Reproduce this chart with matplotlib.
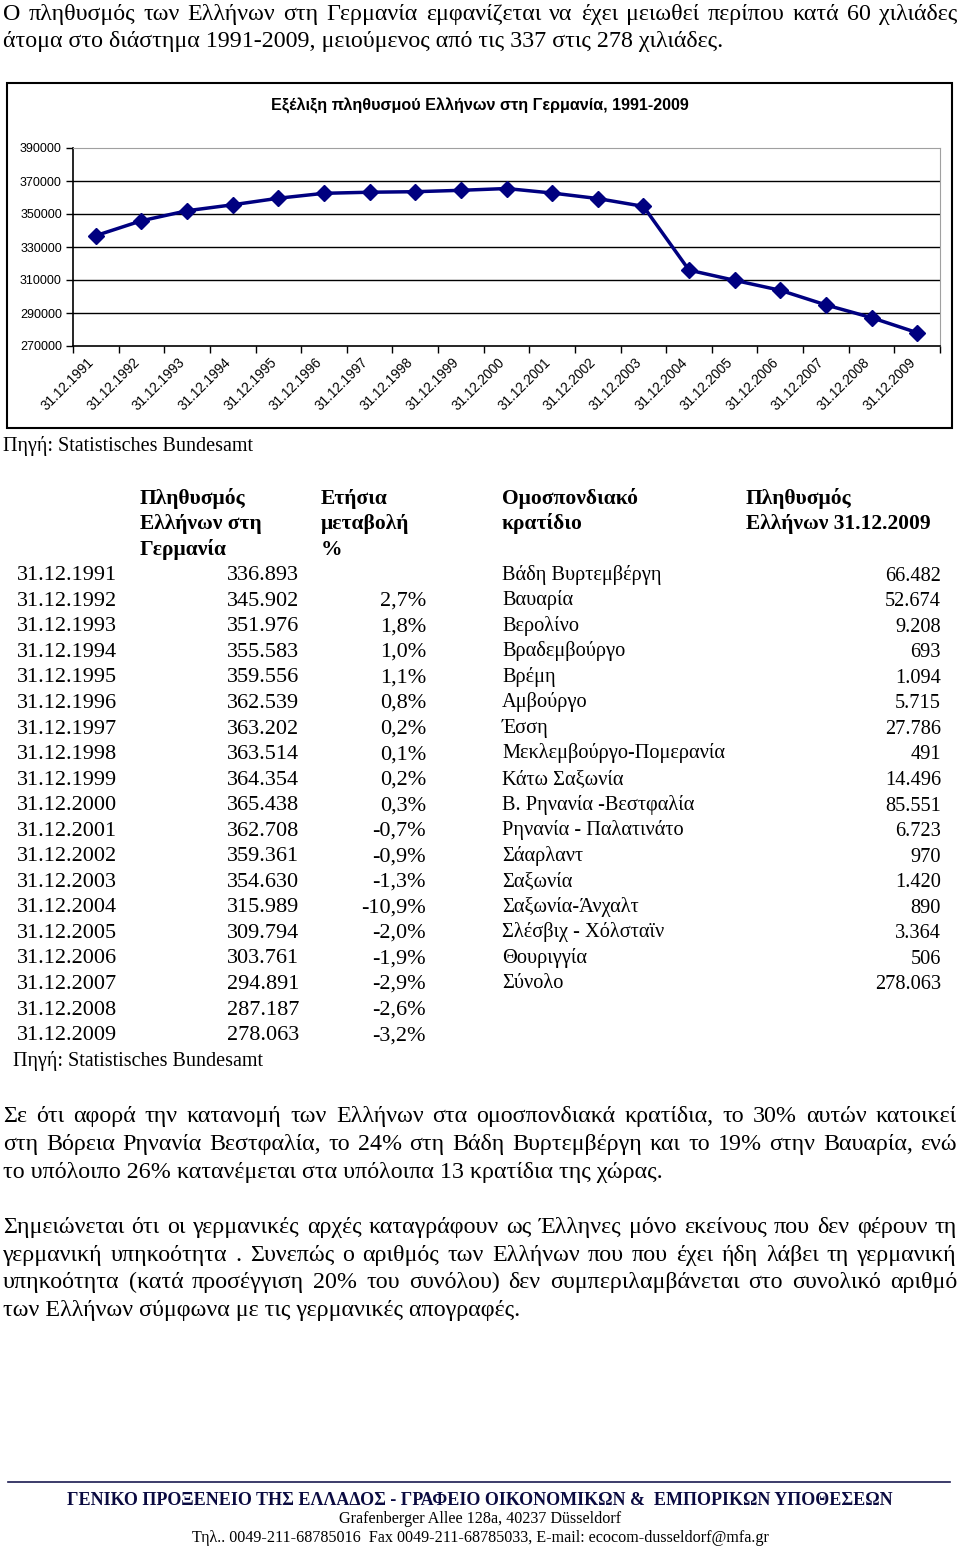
import matplotlib
matplotlib.use('Agg')
import matplotlib.pyplot as plt
from matplotlib.patches import Rectangle
from matplotlib.transforms import ScaledTranslation

# --- data ---
dates = ['31.12.1991', '31.12.1992', '31.12.1993', '31.12.1994', '31.12.1995',
         '31.12.1996', '31.12.1997', '31.12.1998', '31.12.1999', '31.12.2000',
         '31.12.2001', '31.12.2002', '31.12.2003', '31.12.2004', '31.12.2005',
         '31.12.2006', '31.12.2007', '31.12.2008', '31.12.2009']
population = [336893, 345902, 351976, 355583, 359556, 362539, 363202, 363514,
              364354, 365438, 362708, 359361, 354630, 315989, 309794, 303761,
              294891, 287187, 278063]
change_pct = [None, 2.7, 1.8, 1.0, 1.1, 0.8, 0.2, 0.1, 0.2, 0.3, -0.7, -0.9,
              -1.3, -10.9, -2.0, -1.9, -2.9, -2.6, -3.2]
y_ticks = [270000, 290000, 310000, 330000, 350000, 370000, 390000]

states = ['Βάδη Βυρτεμβέργη', 'Βαυαρία', 'Βερολίνο', 'Βραδεμβούργο', 'Βρέμη',
          'Αμβούργο', 'Έσση', 'Μεκλεμβούργο-Πομερανία', 'Κάτω Σαξωνία',
          'Β. Ρηνανία -Βεστφαλία', 'Ρηνανία - Παλατινάτο', 'Σάαρλαντ', 'Σαξωνία',
          'Σαξωνία-Άνχαλτ', 'Σλέσβιχ - Χόλσταϊν', 'Θουριγγία', 'Σύνολο']
state_pop = [66482, 52674, 9208, 693, 1094, 5715, 27786, 491, 14496, 85551,
             6723, 970, 1420, 890, 3364, 506, 278063]

intro = ["Ο πληθυσμός των Ελλήνων στη Γερμανία εμφανίζεται να έχει μειωθεί περίπου κατά 60 χιλιάδες",
         "άτομα στο διάστημα 1991-2009, μειούμενος από τις 337 στις 278 χιλιάδες."]
para2 = ["Σε ότι αφορά την κατανομή των Ελλήνων στα ομοσπονδιακά κρατίδια, το 30% αυτών κατοικεί",
         "στη Βόρεια Ρηνανία Βεστφαλία, το 24% στη Βάδη Βυρτεμβέργη και το 19% στην Βαυαρία, ενώ",
         "το υπόλοιπο 26% κατανέμεται στα υπόλοιπα 13 κρατίδια της χώρας."]
para3 = ["Σημειώνεται ότι οι γερμανικές αρχές καταγράφουν ως Έλληνες μόνο εκείνους που δεν φέρουν τη",
         "γερμανική υπηκοότητα . Συνεπώς ο αριθμός των Ελλήνων που που έχει ήδη λάβει τη γερμανική",
         "υπηκοότητα (κατά προσέγγιση 20% του συνόλου) δεν συμπεριλαμβάνεται στο συνολικό αριθμό",
         "των Ελλήνων σύμφωνα με τις γερμανικές απογραφές."]

W, H = 960, 1554
SERIF = 'Liberation Serif'
SANS = 'Liberation Sans'
FS_PARA = 17.3   # body paragraphs
FS_LEFT = 16     # left table
FS_RIGHT = 14.7  # right table
FS_SRC = 14.5    # source notes

fig = plt.figure(figsize=(W / 100, H / 100), dpi=100)
bg = fig.add_axes([0, 0, 1, 1])
bg.set_xlim(0, W)
bg.set_ylim(H, 0)
bg.axis('off')
renderer = fig.canvas.get_renderer()


def txt(x, y, s, ha='left', size=15.5, weight='normal', family=SERIF):
    # y = visual centre of the line in pixels
    return bg.text(x, y + 0.45 * size, s, ha=ha, va='baseline', fontsize=size,
                   fontweight=weight, family=family)


def justify(line, y, x0=3, x1=957, size=FS_PARA):
    words = line.split()
    items = [txt(0, y, w, size=size) for w in words]
    widths = [t.get_window_extent(renderer).width for t in items]
    gap = (x1 - x0 - sum(widths)) / (len(words) - 1)
    x = x0
    for t, w in zip(items, widths):
        t.set_x(x)
        x += w + gap


def paragraph(lines, y0, step):
    for i, line in enumerate(lines):
        y = y0 + i * step
        if i < len(lines) - 1:
            justify(line, y)
        else:
            txt(3, y, line, size=FS_PARA)


paragraph(intro, 12, 27)

# --- chart ---
bg.add_patch(Rectangle((7, 83), 945, 345, fill=False, ec='black', lw=1.5))
bg.text(480, 106, 'Εξέλιξη πληθυσμού Ελλήνων στη Γερμανία, 1991-2009',
        ha='center', va='center', fontsize=11.6, fontweight='bold', family=SANS)

ax = fig.add_axes([73 / W, 1 - 346 / H, 867 / W, 198 / H])
xs = list(range(len(dates)))
ax.plot(xs, population, color='#000080', lw=2.5, marker='D', markersize=8)
ax.set_xlim(-0.5, len(dates) - 0.5)
ax.set_ylim(270000, 390000)
ax.set_yticks(y_ticks)
ax.set_yticklabels([str(v) for v in y_ticks], family=SANS, fontsize=9)
for v in y_ticks[1:-1]:
    ax.axhline(v, color='black', lw=1, zorder=0)
ax.set_xticks([i - 0.5 for i in range(len(dates) + 1)])
ax.set_xticklabels([])
ax.set_xticks(xs, minor=True)
ax.set_xticklabels(dates, minor=True, rotation=45, ha='right', va='center',
                   rotation_mode='anchor', family=SANS, fontsize=9.8)
ax.tick_params(axis='x', which='major', length=5, width=1, direction='out')
ax.tick_params(axis='x', which='minor', length=0, pad=10)
ax.tick_params(axis='y', length=5, width=1, direction='out', pad=3)
shift = ScaledTranslation(-4 / 100, 0, fig.dpi_scale_trans)
for lbl in ax.get_xticklabels(minor=True):
    lbl.set_transform(lbl.get_transform() + shift)
ax.spines['top'].set_color('#a0a0a0')
ax.spines['right'].set_color('#a0a0a0')
for s in ['left', 'bottom']:
    ax.spines[s].set_linewidth(1.2)

txt(3, 444, 'Πηγή: Statistisches Bundesamt', size=FS_SRC)

# --- tables ---
for i, s in enumerate(['Πληθυσμός', 'Ελλήνων στη', 'Γερμανία']):
    txt(140, 497 + i * 25.5, s, weight='bold')
for i, s in enumerate(['Ετήσια', 'μεταβολή', '%']):
    txt(321, 497 + i * 25.5, s, weight='bold')
for i, s in enumerate(['Ομοσπονδιακό', 'κρατίδιο']):
    txt(502, 497 + i * 25.5, s, weight='bold')
for i, s in enumerate(['Πληθυσμός', 'Ελλήνων 31.12.2009']):
    txt(746, 497 + i * 25.5, s, weight='bold')

step = 25.55
for i, (d, p, c) in enumerate(zip(dates, population, change_pct)):
    y = 573 + i * step
    txt(17, y, d, size=FS_LEFT)
    txt(299, y, f'{p:,}'.replace(',', '.'), ha='right', size=FS_LEFT)
    if c is not None:
        txt(426, y, f'{c:.1f}%'.replace('.', ','), ha='right', size=FS_LEFT)
txt(13, 1059, 'Πηγή: Statistisches Bundesamt', size=FS_SRC)

for i, (s, v) in enumerate(zip(states, state_pop)):
    y = 573 + i * step
    txt(502, y, s, size=FS_RIGHT)
    txt(941, y + 1, f'{v:,}'.replace(',', '.'), ha='right', size=FS_RIGHT)

paragraph(para2, 1114, 28)
paragraph(para3, 1225, 27.8)

# --- footer ---
bg.plot([8, 950], [1482, 1482], color='#1a1a50', lw=1.2)
bg.text(480, 1499 + 6, 'ΓΕΝΙΚΟ ΠΡΟΞΕΝΕΙΟ ΤΗΣ ΕΛΛΑΔΟΣ - ΓΡΑΦΕΙΟ ΟΙΚΟΝΟΜΙΚΩΝ &  ΕΜΠΟΡΙΚΩΝ ΥΠΟΘΕΣΕΩΝ',
        ha='center', va='baseline', fontsize=13, fontweight='bold', family=SERIF,
        color='#0a0a40')
bg.text(480, 1518 + 5, 'Grafenberger Allee 128a, 40237 Düsseldorf',
        ha='center', va='baseline', fontsize=11.6, family=SERIF)
bg.text(480, 1537 + 5, 'Τηλ.. 0049-211-68785016  Fax 0049-211-68785033, E-mail: ecocom-dusseldorf@mfa.gr',
        ha='center', va='baseline', fontsize=11.6, family=SERIF)

fig.savefig('out.png', dpi=100)
